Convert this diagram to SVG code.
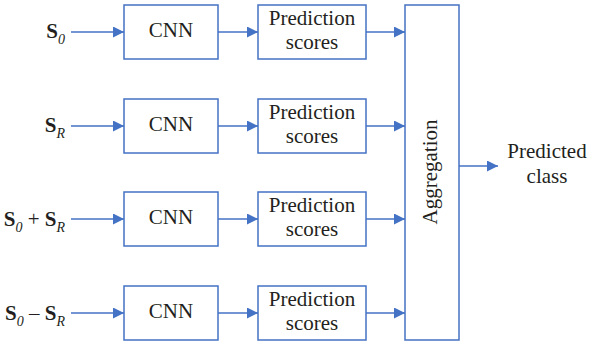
<svg xmlns="http://www.w3.org/2000/svg" width="590" height="341" viewBox="0 0 590 341">
<defs>
<marker id="ah" markerWidth="12" markerHeight="12" refX="11" refY="5.5" orient="auto" markerUnits="userSpaceOnUse">
<path d="M0,0 L11,5.5 L0,11 Z" fill="#4472C4"/>
</marker>
</defs>
<style>
.box{fill:#fff;stroke:#4472C4;stroke-width:1.5}
.t{font-size:21px;fill:#231f20;text-anchor:middle}
.lbl{font-size:21px;fill:#231f20;text-anchor:end}
.b{font-weight:bold}
.sub{font-style:italic;font-size:14px}
.c{stroke:#4472C4;stroke-width:1.5;fill:none;marker-end:url(#ah)}
</style>
<rect width="590" height="341" fill="#fff"/>
<g font-family="Liberation Serif">
<g id="labels">
<text class="lbl" x="65" y="38"><tspan class="b">S</tspan><tspan class="sub" dy="6">0</tspan></text>
<text class="lbl" x="65" y="132"><tspan class="b">S</tspan><tspan class="sub" dy="6">R</tspan></text>
<text class="lbl" x="65" y="226"><tspan class="b">S</tspan><tspan class="sub" dy="6">0</tspan><tspan dy="-6"> + </tspan><tspan class="b">S</tspan><tspan class="sub" dy="6">R</tspan></text>
<text class="lbl" x="65" y="320"><tspan class="b">S</tspan><tspan class="sub" dy="6">0</tspan><tspan dy="-6"> – </tspan><tspan class="b">S</tspan><tspan class="sub" dy="6">R</tspan></text>
</g>
<g id="cnn1"><rect class="box" x="124" y="5" width="94" height="54"/><text class="t" x="171" y="37">CNN</text></g>
<g id="cnn2"><rect class="box" x="124" y="99" width="94" height="54"/><text class="t" x="171" y="131">CNN</text></g>
<g id="cnn3"><rect class="box" x="124" y="192" width="94" height="54"/><text class="t" x="171" y="224">CNN</text></g>
<g id="cnn4"><rect class="box" x="124" y="286" width="94" height="54"/><text class="t" x="171" y="318">CNN</text></g>
<g id="pred1"><rect class="box" x="258" y="5" width="108" height="54"/><text class="t" x="312" y="25">Prediction</text><text class="t" x="312" y="49">scores</text></g>
<g id="pred2"><rect class="box" x="258" y="99" width="108" height="54"/><text class="t" x="312" y="119">Prediction</text><text class="t" x="312" y="143">scores</text></g>
<g id="pred3"><rect class="box" x="258" y="192" width="108" height="54"/><text class="t" x="312" y="212">Prediction</text><text class="t" x="312" y="236">scores</text></g>
<g id="pred4"><rect class="box" x="258" y="286" width="108" height="54"/><text class="t" x="312" y="306">Prediction</text><text class="t" x="312" y="330">scores</text></g>
<g id="aggregation"><rect class="box" x="405" y="5" width="54" height="335"/><text class="t" transform="translate(437,172) rotate(-90)">Aggregation</text></g>
<g id="output"><text class="t" x="547" y="158">Predicted</text><text class="t" x="547" y="183">class</text></g>
</g>
<g id="connectors">
<line class="c" x1="71" y1="32" x2="124" y2="32"/>
<line class="c" x1="71" y1="126" x2="124" y2="126"/>
<line class="c" x1="71" y1="219" x2="124" y2="219"/>
<line class="c" x1="71" y1="313" x2="124" y2="313"/>
<line class="c" x1="218" y1="32" x2="258" y2="32"/>
<line class="c" x1="218" y1="126" x2="258" y2="126"/>
<line class="c" x1="218" y1="219" x2="258" y2="219"/>
<line class="c" x1="218" y1="313" x2="258" y2="313"/>
<line class="c" x1="366" y1="32" x2="405" y2="32"/>
<line class="c" x1="366" y1="126" x2="405" y2="126"/>
<line class="c" x1="366" y1="219" x2="405" y2="219"/>
<line class="c" x1="366" y1="313" x2="405" y2="313"/>
<line class="c" x1="459" y1="166" x2="498" y2="166"/>
</g>
</svg>
